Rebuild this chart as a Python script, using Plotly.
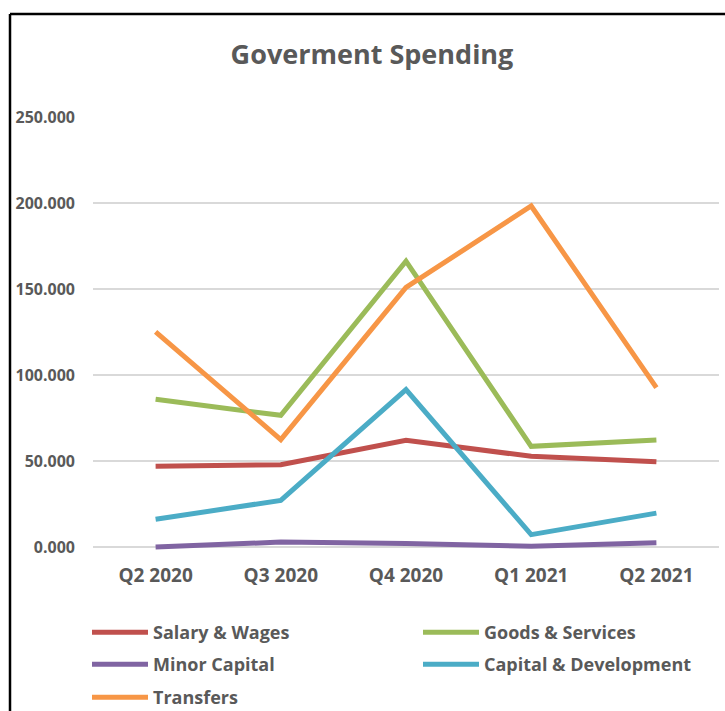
import plotly.graph_objects as go

# Quarterly government spending by category
quarters = ["Q2 2020", "Q3 2020", "Q4 2020", "Q1 2021", "Q2 2021"]

salary_wages = [47.1, 48.0, 62.2, 52.9, 49.7]
goods_services = [86.0, 76.7, 166.3, 58.7, 62.4]
minor_capital = [0.2, 3.1, 2.3, 0.6, 2.7]
capital_development = [16.3, 27.3, 91.7, 7.4, 19.9]
transfers = [125.2, 62.6, 151.0, 198.3, 92.8]

series = [
    ("Salary & Wages", salary_wages, "#C0504D", "legend"),
    ("Goods & Services", goods_services, "#9BBB59", "legend"),
    ("Minor Capital", minor_capital, "#8064A2", "legend2"),
    ("Capital & Development", capital_development, "#4BACC6", "legend2"),
    ("Transfers", transfers, "#F79646", "legend3"),
]

W, H = 725, 711
L, R, T = 93, 6, 117
Y_MIN, Y_MAX = -5, 250
PX_PER_UNIT = 86 / 50
plot_h = (Y_MAX - Y_MIN) * PX_PER_UNIT
B = H - T - plot_h
plot_w = W - L - R

TEXT = "#595959"
FONT = "Open Sans"

fig = go.Figure()
for name, vals, color, lg in series:
    fig.add_trace(go.Scatter(
        x=quarters, y=vals, name=name, mode="lines",
        line=dict(color=color, width=5),
        legend=lg,
    ))


def px_to_paper_x(px):
    return (px - L) / plot_w


def px_to_paper_y(py):
    return (H - B - py) / plot_h


legend_common = dict(
    orientation="h", xanchor="left", yanchor="middle",
    entrywidth=260, entrywidthmode="pixels", itemwidth=56,
    font=dict(family=FONT, size=18, color=TEXT, weight="bold"),
    bgcolor="rgba(0,0,0,0)", traceorder="normal",
)
lx = px_to_paper_x(87)

fig.update_layout(
    width=W, height=H,
    margin=dict(l=L, r=R, t=T, b=B, pad=0, autoexpand=False),
    paper_bgcolor="white", plot_bgcolor="white",
    title=dict(
        text="<b>Goverment Spending</b>",
        x=px_to_paper_x(372), xref="paper", xanchor="center",
        y=1 - 55 / H, yanchor="middle",
        font=dict(family=FONT, size=27, color=TEXT),
    ),
    xaxis=dict(
        type="category", range=[-0.5, 4.5],
        showgrid=False, showline=False, ticks="",
        tickfont=dict(family=FONT, size=19, color=TEXT, weight="bold"),
        ticklabelstandoff=6,
    ),
    yaxis=dict(
        range=[Y_MIN, Y_MAX], tick0=0, dtick=50,
        tickformat=".3f",
        showgrid=True, gridcolor="#D9D9D9", gridwidth=1.5,
        zeroline=False, showline=False, ticks="",
        tickfont=dict(family=FONT, size=16, color=TEXT, weight="bold"),
        ticklabelstandoff=17,
    ),
    legend=dict(x=lx, y=px_to_paper_y(632), **legend_common),
    legend2=dict(x=lx, y=px_to_paper_y(664), **legend_common),
    legend3=dict(x=lx, y=px_to_paper_y(697), **legend_common),
    showlegend=True,
)

# Chart frame edges (top and left)
fig.add_shape(type="line", xref="paper", yref="paper",
              x0=px_to_paper_x(10), x1=px_to_paper_x(W + 5),
              y0=px_to_paper_y(14), y1=px_to_paper_y(14),
              line=dict(color="black", width=2.5))
fig.add_shape(type="line", xref="paper", yref="paper",
              x0=px_to_paper_x(10), x1=px_to_paper_x(10),
              y0=px_to_paper_y(14), y1=px_to_paper_y(H + 5),
              line=dict(color="black", width=2.5))

fig.write_html("out.html")
